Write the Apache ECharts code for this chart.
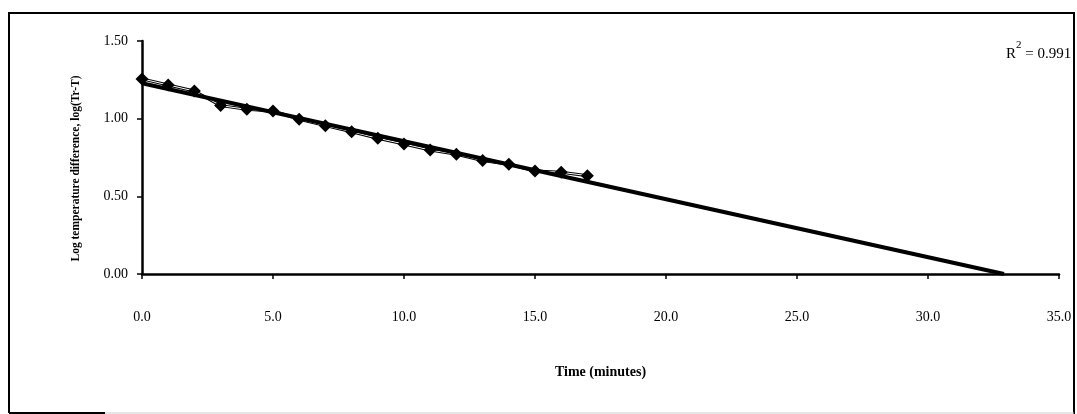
<!DOCTYPE html>
<html>
<head>
<meta charset="utf-8">
<script src="https://cdn.jsdelivr.net/npm/echarts@6/dist/echarts.min.js"></script>
<style>
  html, body { margin: 0; padding: 0; background: #fff; }
  #chart1 { width: 1077px; height: 414px; }
</style>
</head>
<body>
<div id="chart1"></div>
<script>
// measured points, time in minutes vs log(Tr-T)
const timeMin = [0, 1, 2, 3, 4, 5, 6, 7, 8, 9, 10, 11, 12, 13, 14, 15, 16, 17];
const logDiff = [1.256, 1.217, 1.178, 1.084, 1.060, 1.050, 0.996, 0.955, 0.916,
                 0.874, 0.837, 0.798, 0.771, 0.730, 0.706, 0.663, 0.655, 0.633];
// linear trend line (start and x-intercept)
const trendTime = [0, 32.9];
const trendLog = [1.228, 0];
const rSquared = '0.991';

const serif = 'Liberation Serif';
const pts = timeMin.map((t, i) => [t, logDiff[i]]);
const trend = trendTime.map((t, i) => [t, trendLog[i]]);

let myChart = echarts.init(document.getElementById('chart1'));
const option = {
    animation: false,
    backgroundColor: '#fff',
    grid: { left: 142, right: 18, top: 41, bottom: 140 },
    xAxis: {
        type: 'value',
        min: 0, max: 35, interval: 5,
        name: 'Time (minutes)',
        nameLocation: 'middle',
        nameGap: 91,
        nameTextStyle: { fontFamily: serif, fontSize: 14, fontWeight: 'bold', color: '#000' },
        axisLine: { lineStyle: { color: '#000', width: 2.5 } },
        axisTick: { length: 5, lineStyle: { color: '#000', width: 1.5 } },
        axisLabel: {
            margin: 36,
            fontFamily: serif, fontSize: 14, color: '#000',
            formatter: v => v.toFixed(1)
        },
        splitLine: { show: false }
    },
    yAxis: {
        type: 'value',
        min: 0, max: 1.5, interval: 0.5,
        name: 'Log temperature difference, log(Tr-T)',
        nameLocation: 'middle',
        nameGap: 60,
        nameRotate: 90,
        nameTextStyle: {
            fontFamily: serif, fontSize: 11.5, fontWeight: 'bold', color: '#000',
            padding: [0, 22, 0, 0]
        },
        axisLine: { lineStyle: { color: '#000', width: 2.5 } },
        axisTick: { length: 5, lineStyle: { color: '#000', width: 1.5 } },
        axisLabel: {
            margin: 14,
            fontFamily: serif, fontSize: 14, color: '#000',
            formatter: v => v.toFixed(2)
        },
        splitLine: { show: false }
    },
    series: [
        {
            name: 'data outline',
            type: 'line',
            data: pts,
            symbol: 'none',
            lineStyle: { color: '#000', width: 3 },
            z: 2
        },
        {
            name: 'data inner',
            type: 'line',
            data: pts,
            symbol: 'none',
            lineStyle: { color: '#fff', width: 1 },
            z: 3
        },
        {
            name: 'trend',
            type: 'line',
            data: trend,
            symbol: 'none',
            lineStyle: { color: '#000', width: 4 },
            z: 4
        },
        {
            name: 'points',
            type: 'scatter',
            data: pts,
            symbol: 'diamond',
            symbolSize: 13,
            itemStyle: { color: '#000', opacity: 1 },
            z: 5
        }
    ],
    graphic: [
        {
            type: 'polyline',
            shape: { points: [[9, 413], [9, 13], [1074, 13], [1074, 414]] },
            style: { stroke: '#000', lineWidth: 2, fill: null }
        },
        {
            type: 'line',
            shape: { x1: 9, y1: 413, x2: 105, y2: 413 },
            style: { stroke: '#000', lineWidth: 2 }
        },
        {
            type: 'line',
            shape: { x1: 105, y1: 413, x2: 1074, y2: 413 },
            style: { stroke: '#ccc', lineWidth: 1 }
        },
        {
            type: 'text',
            left: 1006,
            top: 40,
            style: {
                text: '{r|R}{s|2}{r| = ' + rSquared + '}',
                rich: {
                    r: { fontFamily: serif, fontSize: 15, fill: '#000', verticalAlign: 'bottom', lineHeight: 22 },
                    s: { fontFamily: serif, fontSize: 11, fill: '#000', verticalAlign: 'top', lineHeight: 22 }
                }
            }
        }
    ]
};
myChart.setOption(option);
</script>
</body>
</html>
